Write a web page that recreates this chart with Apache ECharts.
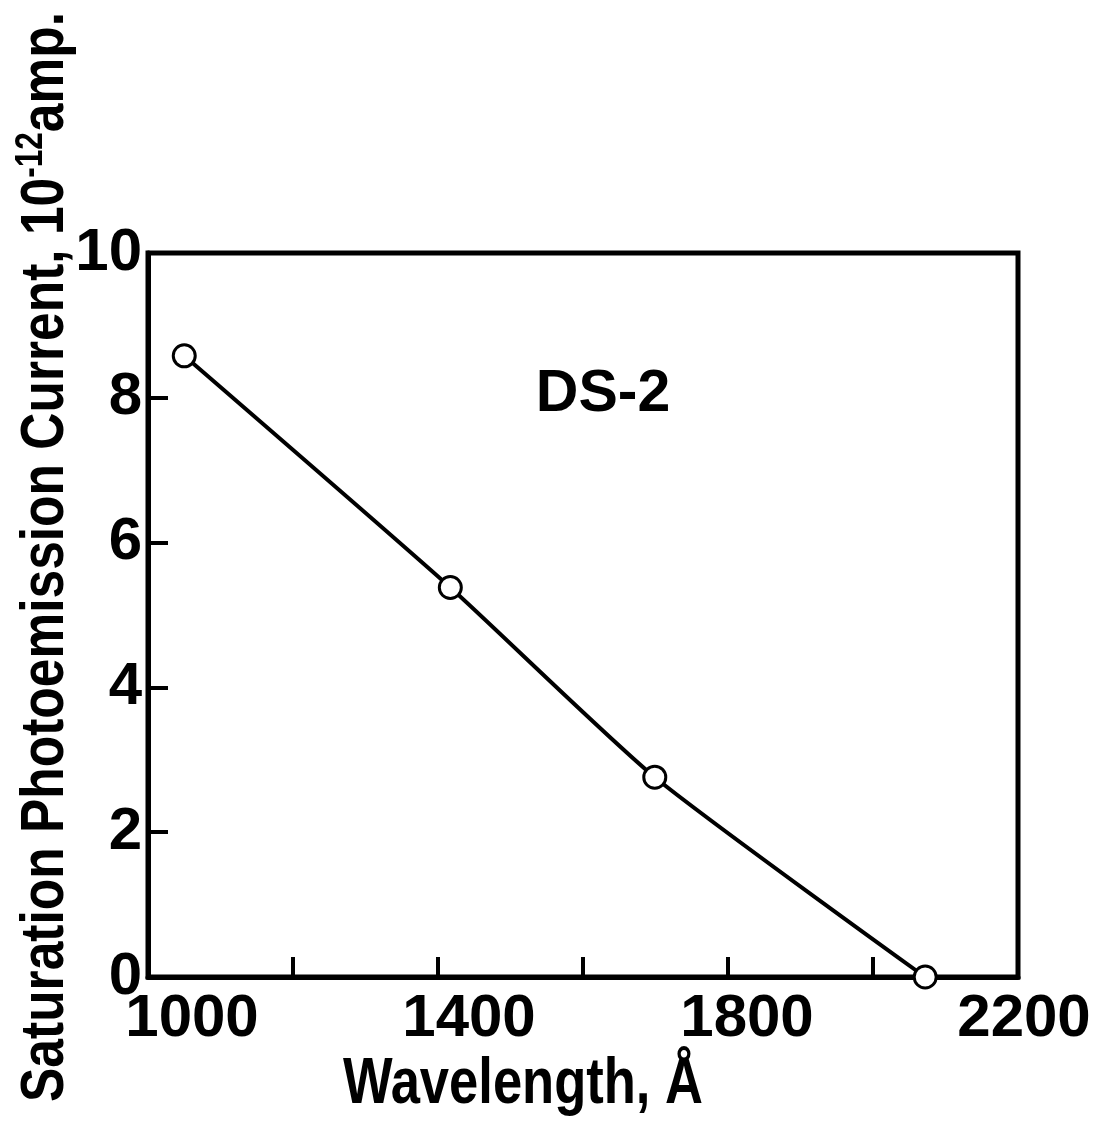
<!DOCTYPE html>
<html>
<head>
<meta charset="utf-8">
<script src="https://cdn.jsdelivr.net/npm/echarts@6/dist/echarts.min.js"></script>
<style>
  html, body { margin: 0; padding: 0; background: #fff; }
  #main { width: 1111px; height: 1123px; }
</style>
</head>
<body>
<div id="main"></div>
<script>
// values
var wavelength = [1050, 1417, 1699, 2072];
var current = [8.58, 5.38, 2.76, 0];
var xLabels = [1000, 1400, 1800, 2200];

var pts = wavelength.map(function (w, i) { return [w, current[i]]; });
var font = 'Liberation Sans';

// hand lettering sits a bit right of the ticks
var labelShift = { 1000: 44, 1400: 31, 1800: 19, 2200: 6 };
var rich = {};
xLabels.forEach(function (v) {
  rich['l' + v] = {
    fontFamily: font, fontWeight: 'bold', fontSize: 60, color: '#000',
    padding: [0, 0, 0, labelShift[v] * 2]
  };
});

// squeeze lettering to a given length
var ctx = document.createElement('canvas').getContext('2d');
function widthOf(txt, size) {
  ctx.font = 'bold ' + size + 'px "Liberation Sans"';
  return ctx.measureText(txt).width;
}
var ySize = 62, ySup = 38;
var yPlain = widthOf('Saturation Photoemission Current, 10', ySize) +
             widthOf('amp.', ySize) + widthOf('-12', ySup);
var yScale = 1090 / yPlain;
var xSize = 64;
var xScale = 360 / widthOf('Wavelength, Å', xSize);

var chart = echarts.init(document.getElementById('main'));
chart.setOption({
  backgroundColor: '#fff',
  animation: false,
  grid: {
    left: 148, top: 253, right: 93, bottom: 146,
    outerBoundsMode: 'none',
    show: true, borderColor: '#000', borderWidth: 5
  },
  xAxis: {
    type: 'value', min: 1000, max: 2200, interval: 200,
    axisLine: { show: true, lineStyle: { color: '#000', width: 5 } },
    axisTick: { inside: true, length: 20, lineStyle: { color: '#000', width: 4 } },
    splitLine: { show: false },
    axisLabel: {
      color: '#000', fontFamily: font, fontWeight: 'bold', fontSize: 60, margin: 12,
      rich: rich,
      formatter: function (v) {
        return xLabels.indexOf(v) >= 0 ? '{l' + v + '|' + v + '}' : '';
      }
    }
  },
  yAxis: {
    type: 'value', min: 0, max: 10, interval: 2,
    axisLine: { show: true, lineStyle: { color: '#000', width: 5 } },
    axisTick: { inside: true, length: 20, lineStyle: { color: '#000', width: 4 } },
    splitLine: { show: false },
    axisLabel: { color: '#000', fontFamily: font, fontWeight: 'bold', fontSize: 60, margin: 6 }
  },
  graphic: [{
    type: 'text', x: 523, y: 1085, scaleX: xScale,
    style: {
      text: 'Wavelength, Å', fill: '#000',
      font: 'bold ' + xSize + 'px "Liberation Sans"',
      textAlign: 'center', textVerticalAlign: 'middle'
    }
  }, {
    type: 'text', x: 46, y: 557, rotation: Math.PI / 2, scaleX: yScale,
    style: {
      text: '{m|Saturation Photoemission Current, 10}{s|-12}{m|amp.}',
      textAlign: 'center', textVerticalAlign: 'middle',
      rich: {
        m: { fontFamily: font, fontWeight: 'bold', fontSize: ySize, color: '#000', lineHeight: 66 },
        s: { fontFamily: font, fontWeight: 'bold', fontSize: ySup, color: '#000',
             lineHeight: 66, verticalAlign: 'top', padding: [0, 0, 22, 0] }
      }
    }
  }, {
    type: 'text', x: 603, y: 395,
    style: {
      text: 'DS-2', fill: '#000', font: 'bold 59px "Liberation Sans"',
      textAlign: 'center', textVerticalAlign: 'middle'
    }
  }],
  series: [{
    type: 'line',
    data: pts,
    smooth: 0.2,
    symbol: 'circle',
    symbolSize: 22,
    lineStyle: { color: '#000', width: 4 },
    itemStyle: { color: '#fff', borderColor: '#000', borderWidth: 3 }
  }]
});
</script>
</body>
</html>
